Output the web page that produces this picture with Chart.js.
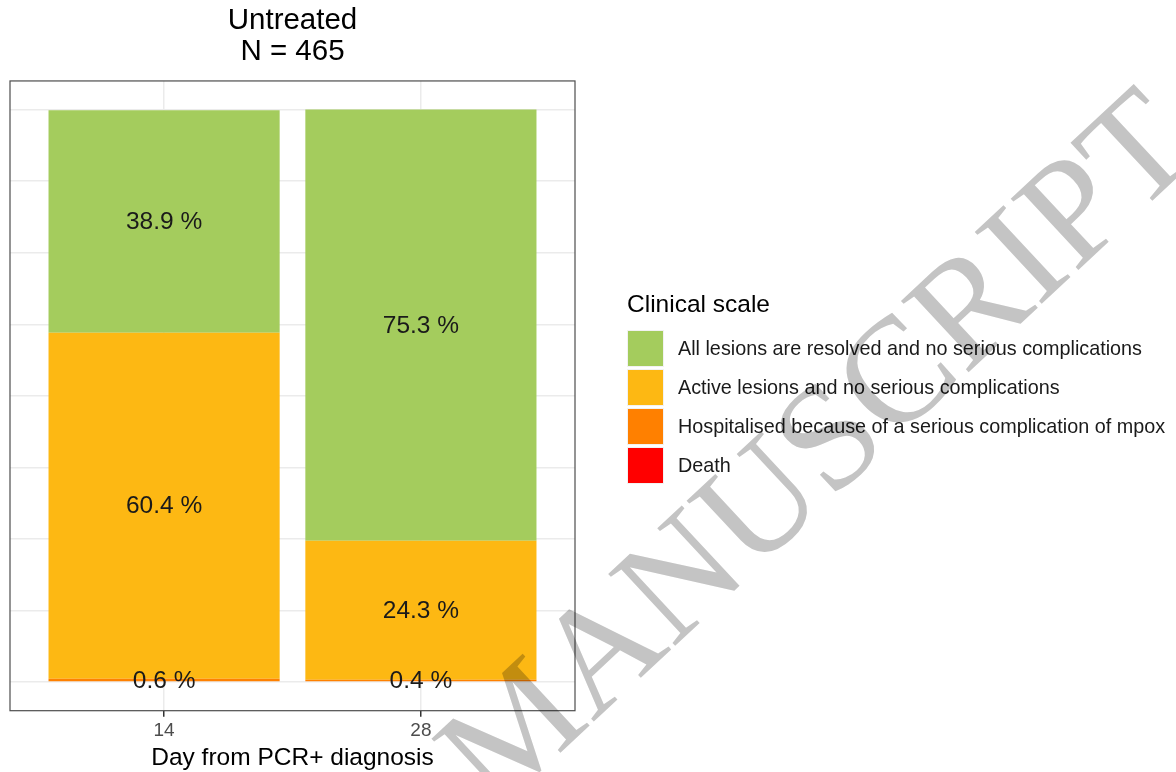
<!DOCTYPE html>
<html>
<head>
<meta charset="utf-8">
<script src="https://cdn.jsdelivr.net/npm/chart.js@4.4.1/dist/chart.umd.min.js"></script>
<style>
  html, body { margin: 0; padding: 0; background: #fff; }
  #wrap { width: 1176px; height: 772px; }
</style>
</head>
<body>
<div id="wrap"><canvas id="chart" width="1176" height="772"></canvas></div>
<script>
// data
const dayLabels = ['14', '28'];
const dayPos = [1, 2];
const death = [0, 0];
const hospitalised = [0.6, 0.4];
const active = [60.4, 24.3];
const resolved = [38.9, 75.3];
const yGrid = [0, 12.5, 25, 37.5, 50, 62.5, 75, 87.5, 100];

const seriesNames = [
  'Death',
  'Hospitalised because of a serious complication of mpox',
  'Active lesions and no serious complications',
  'All lesions are resolved and no serious complications'
];
const seriesColors = ['#ff0000', '#ff8000', '#fdb813', '#a4cc5d'];
const seriesValues = [death, hospitalised, active, resolved];

const FONT = "'Liberation Sans', Arial, sans-serif";

const datasets = seriesValues.map((vals, i) => ({
  label: seriesNames[i],
  data: vals.map((v, j) => ({ x: dayPos[j], y: v })),
  backgroundColor: seriesColors[i],
  borderWidth: 0,
  barPercentage: 0.9,
  categoryPercentage: 1
}));

// percentage labels in the middle of each segment
const segmentLabels = {
  id: 'segmentLabels',
  afterDatasetsDraw(chart) {
    const ctx = chart.ctx;
    ctx.save();
    ctx.font = '24.5px ' + FONT;
    ctx.fillStyle = '#1a1a1a';
    ctx.textAlign = 'center';
    ctx.textBaseline = 'middle';
    chart.data.datasets.forEach((ds, i) => {
      const meta = chart.getDatasetMeta(i);
      meta.data.forEach((bar, j) => {
        const v = ds.data[j].y;
        if (v <= 0) return;
        const yMid = (bar.y + bar.base) / 2;
        ctx.fillText(v.toFixed(1) + ' %', bar.x, yMid + 1);
      });
    });
    ctx.restore();
  }
};

// panel border, legend and watermark
const decorations = {
  id: 'decorations',
  afterDraw(chart) {
    const ctx = chart.ctx;
    const a = chart.chartArea;
    ctx.save();
    ctx.strokeStyle = '#4d4d4d';
    ctx.lineWidth = 1.2;
    ctx.strokeRect(a.left, a.top, a.right - a.left, a.bottom - a.top);

    // legend
    const lx = 627, ly = 305;
    ctx.fillStyle = '#000';
    ctx.font = '24.5px ' + FONT;
    ctx.textBaseline = 'middle';
    ctx.textAlign = 'left';
    ctx.fillText('Clinical scale', lx, ly);
    ctx.font = '19.8px ' + FONT;
    for (let k = 0; k < 4; k++) {
      const idx = 3 - k;
      const top = 330 + k * 39;
      ctx.fillStyle = seriesColors[idx];
      ctx.fillRect(lx, top, 37, 37);
      ctx.strokeStyle = '#f2f2f2';
      ctx.lineWidth = 1;
      ctx.strokeRect(lx + 0.5, top + 0.5, 36, 36);
      ctx.fillStyle = '#1a1a1a';
      ctx.fillText(seriesNames[idx], 678, top + 19.5);
    }

    // watermark
    ctx.globalCompositeOperation = 'multiply';
    ctx.translate(822, 455);
    ctx.rotate(-43 * Math.PI / 180);
    ctx.font = "150px 'Liberation Serif', 'DejaVu Serif', serif";
    ctx.fillStyle = '#c4c4c4';
    ctx.textAlign = 'center';
    ctx.textBaseline = 'middle';
    ctx.fillText('MANUSCRIPT', 0, 0);
    ctx.restore();
  }
};

new Chart(document.getElementById('chart'), {
  type: 'bar',
  data: { datasets: datasets },
  plugins: [segmentLabels, decorations],
  options: {
    responsive: false,
    animation: false,
    layout: { padding: { left: 10, right: 601, top: 0, bottom: 2 } },
    plugins: {
      legend: { display: false },
      tooltip: { enabled: false },
      title: {
        display: true,
        fullSize: false,
        text: ['Untreated', 'N = 465'],
        color: '#000',
        font: { family: FONT, size: 29.5, weight: 'normal', lineHeight: 1.05 },
        padding: { top: 5, bottom: 14 }
      }
    },
    scales: {
      x: {
        type: 'linear',
        stacked: true,
        offset: false,
        min: 0.4,
        max: 2.6,
        afterBuildTicks(scale) { scale.ticks = dayPos.map(v => ({ value: v })); },
        ticks: {
          callback: (v) => dayLabels[dayPos.indexOf(v)],
          color: '#4d4d4d',
          font: { family: FONT, size: 19 },
          padding: 3,
          maxRotation: 0,
          autoSkip: false
        },
        grid: { offset: false, color: '#ebebeb', lineWidth: 1.5, tickColor: '#333', tickLength: 6 },
        border: { display: false },
        title: {
          display: true,
          text: 'Day from PCR+ diagnosis',
          color: '#000',
          font: { family: FONT, size: 24.5, lineHeight: 1 },
          padding: { top: 0, bottom: 0 }
        }
      },
      y: {
        stacked: true,
        min: -5,
        max: 105,
        afterBuildTicks(scale) { scale.ticks = yGrid.map(v => ({ value: v })); },
        ticks: { display: false },
        grid: { color: '#ebebeb', lineWidth: 1.5, drawTicks: false },
        border: { display: false }
      }
    }
  }
});
</script>
</body>
</html>
